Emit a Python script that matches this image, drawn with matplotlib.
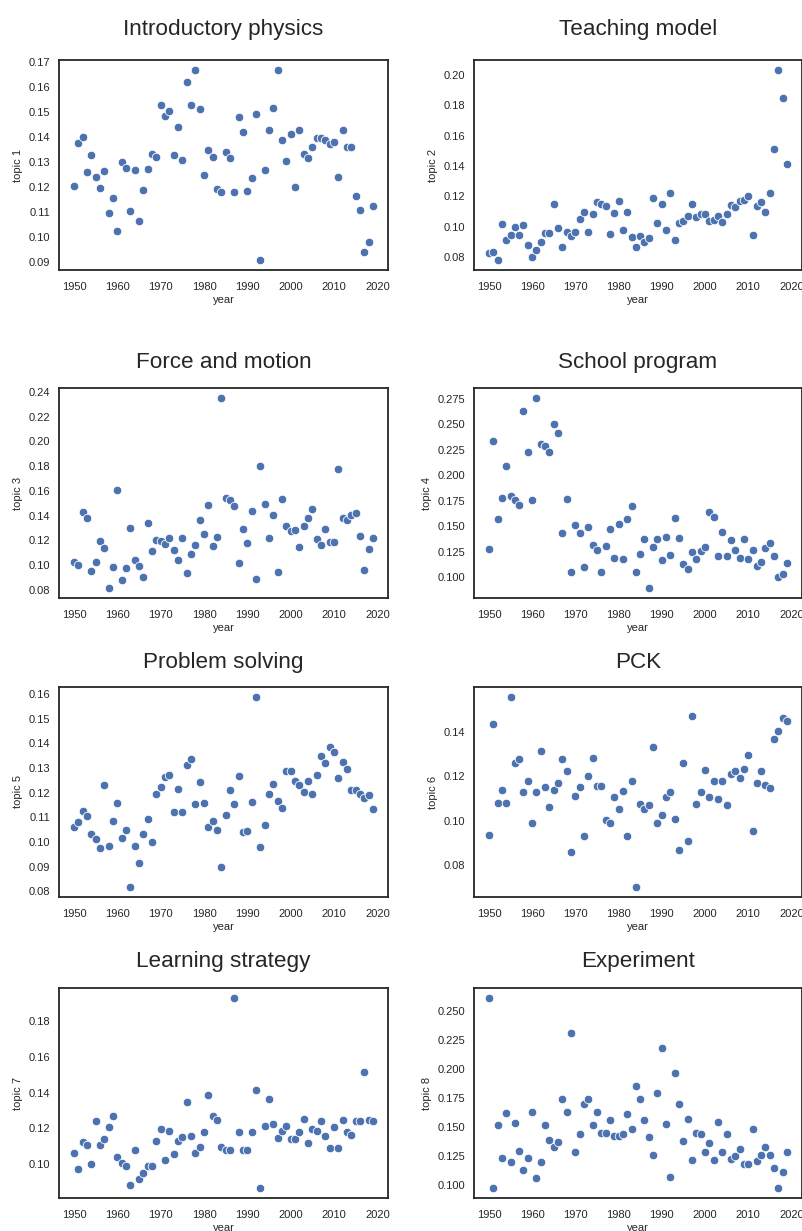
import matplotlib
matplotlib.use("Agg")
import matplotlib.pyplot as plt
import numpy as np

plt.rcParams['font.family'] = ['Liberation Sans', 'Arial', 'DejaVu Sans']

years = list(range(1950, 2020))

titles = ['Introductory physics', 'Teaching model', 'Force and motion', 'School program',
          'Problem solving', 'PCK', 'Learning strategy', 'Experiment']

topic1 = [0.1203, 0.1376, 0.1399, 0.1259, 0.1329, 0.1240, 0.1196, 0.1265, 0.1097, 0.1155,
          0.1025, 0.1299, 0.1276, 0.1103, 0.1267, 0.1063, 0.1187, 0.1271, 0.1332, 0.1319,
          0.1528, 0.1481, 0.1501, 0.1327, 0.1439, 0.1307, 0.1620, 0.1525, 0.1667, 0.1512,
          0.1249, 0.1347, 0.1319, 0.1193, 0.1180, 0.1340, 0.1315, 0.1180, 0.1479, 0.1419,
          0.1184, 0.1236, 0.1491, 0.0907, 0.1267, 0.1429, 0.1516, 0.1668, 0.1387, 0.1304,
          0.1413, 0.1200, 0.1429, 0.1333, 0.1315, 0.1360, 0.1396, 0.1396, 0.1389, 0.1373,
          0.1381, 0.1239, 0.1429, 0.1361, 0.1361, 0.1163, 0.1108, 0.0940, 0.0980, 0.1124]

topic2 = [0.0829, 0.0835, 0.0778, 0.1020, 0.0915, 0.0946, 0.0996, 0.0946, 0.1011, 0.0877,
          0.0800, 0.0849, 0.0901, 0.0959, 0.0961, 0.1152, 0.0992, 0.0868, 0.0963, 0.0941,
          0.0963, 0.1049, 0.1100, 0.0963, 0.1082, 0.1161, 0.1150, 0.1139, 0.0952, 0.1091,
          0.1168, 0.0978, 0.1100, 0.0934, 0.0864, 0.0941, 0.0901, 0.0923, 0.1192, 0.1025,
          0.1152, 0.0978, 0.1223, 0.0910, 0.1025, 0.1036, 0.1069, 0.1152, 0.1062, 0.1082,
          0.1084, 0.1038, 0.1042, 0.1071, 0.1029, 0.1084, 0.1146, 0.1130, 0.1168, 0.1179,
          0.1203, 0.0946, 0.1139, 0.1161, 0.1095, 0.1225, 0.1511, 0.2037, 0.1848, 0.1412]

topic3 = [0.1026, 0.1002, 0.1427, 0.1384, 0.0951, 0.1026, 0.1196, 0.1134, 0.0811, 0.0986,
          0.1610, 0.0878, 0.0975, 0.1298, 0.1037, 0.0991, 0.0900, 0.1338, 0.1112, 0.1204,
          0.1198, 0.1171, 0.1222, 0.1120, 0.1045, 0.1222, 0.0932, 0.1093, 0.1163, 0.1368,
          0.1252, 0.1489, 0.1153, 0.1230, 0.2354, 0.1545, 0.1524, 0.1475, 0.1018, 0.1290,
          0.1182, 0.1438, 0.0889, 0.1801, 0.1494, 0.1220, 0.1405, 0.0943, 0.1535, 0.1317,
          0.1279, 0.1284, 0.1147, 0.1317, 0.1384, 0.1454, 0.1214, 0.1163, 0.1290, 0.1188,
          0.1188, 0.1779, 0.1381, 0.1365, 0.1405, 0.1424, 0.1233, 0.0962, 0.1128, 0.1222]

topic4 = [0.1278, 0.2335, 0.1568, 0.1773, 0.2087, 0.1796, 0.1757, 0.1707, 0.2624, 0.2229,
          0.1757, 0.2760, 0.2305, 0.2289, 0.2229, 0.2497, 0.2417, 0.1433, 0.1767, 0.1053,
          0.1509, 0.1433, 0.1099, 0.1489, 0.1311, 0.1261, 0.1046, 0.1304, 0.1469, 0.1185,
          0.1522, 0.1172, 0.1565, 0.1697, 0.1053, 0.1225, 0.1370, 0.0888, 0.1291, 0.1374,
          0.1169, 0.1390, 0.1218, 0.1575, 0.1383, 0.1129, 0.1079, 0.1248, 0.1175, 0.1255,
          0.1294, 0.1634, 0.1585, 0.1205, 0.1446, 0.1205, 0.1360, 0.1261, 0.1188, 0.1374,
          0.1179, 0.1261, 0.1109, 0.1152, 0.1288, 0.1337, 0.1205, 0.1000, 0.1033, 0.1139]

topic5 = [0.1059, 0.1082, 0.1127, 0.1107, 0.1034, 0.1014, 0.0976, 0.1231, 0.0985, 0.1084,
          0.1157, 0.1016, 0.1050, 0.0816, 0.0985, 0.0915, 0.1034, 0.1095, 0.0999, 0.1196,
          0.1222, 0.1262, 0.1273, 0.1120, 0.1214, 0.1120, 0.1311, 0.1336, 0.1154, 0.1243,
          0.1159, 0.1062, 0.1084, 0.1050, 0.0900, 0.1111, 0.1211, 0.1155, 0.1269, 0.1039,
          0.1046, 0.1161, 0.1589, 0.0978, 0.1070, 0.1196, 0.1236, 0.1168, 0.1138, 0.1286,
          0.1286, 0.1247, 0.1230, 0.1203, 0.1246, 0.1193, 0.1273, 0.1349, 0.1319, 0.1384,
          0.1366, 0.1261, 0.1324, 0.1297, 0.1211, 0.1211, 0.1195, 0.1178, 0.1191, 0.1135]

topic6 = [0.0938, 0.1436, 0.1078, 0.1139, 0.1078, 0.1559, 0.1260, 0.1280, 0.1131, 0.1178,
          0.0991, 0.1131, 0.1313, 0.1152, 0.1064, 0.1137, 0.1172, 0.1277, 0.1223, 0.0859,
          0.1112, 0.1151, 0.0932, 0.1200, 0.1283, 0.1157, 0.1157, 0.1003, 0.0991, 0.1105,
          0.1055, 0.1133, 0.0932, 0.1180, 0.0700, 0.1075, 0.1053, 0.1073, 0.1330, 0.0991,
          0.1024, 0.1108, 0.1128, 0.1010, 0.0868, 0.1258, 0.0907, 0.1470, 0.1075, 0.1128,
          0.1230, 0.1108, 0.1178, 0.1100, 0.1178, 0.1072, 0.1212, 0.1222, 0.1192, 0.1235,
          0.1297, 0.0955, 0.1172, 0.1223, 0.1161, 0.1147, 0.1367, 0.1403, 0.1464, 0.1448]

topic7 = [0.1062, 0.0972, 0.1125, 0.1107, 0.1002, 0.1241, 0.1110, 0.1142, 0.1206, 0.1267,
          0.1041, 0.1006, 0.0991, 0.0886, 0.1082, 0.0918, 0.0948, 0.0991, 0.0991, 0.1127,
          0.1196, 0.1026, 0.1185, 0.1056, 0.1127, 0.1151, 0.1346, 0.1155, 0.1062, 0.1095,
          0.1181, 0.1389, 0.1267, 0.1249, 0.1097, 0.1079, 0.1079, 0.1933, 0.1181, 0.1077,
          0.1077, 0.1181, 0.1413, 0.0864, 0.1211, 0.1366, 0.1224, 0.1144, 0.1187, 0.1213,
          0.1140, 0.1140, 0.1181, 0.1252, 0.1121, 0.1196, 0.1187, 0.1241, 0.1157, 0.1088,
          0.1209, 0.1090, 0.1249, 0.1181, 0.1164, 0.1243, 0.1243, 0.1514, 0.1249, 0.1239]

topic8 = [0.2615, 0.0980, 0.1516, 0.1232, 0.1620, 0.1198, 0.1536, 0.1298, 0.1129, 0.1238,
          0.1628, 0.1060, 0.1204, 0.1516, 0.1387, 0.1330, 0.1370, 0.1740, 0.1634, 0.2311,
          0.1290, 0.1439, 0.1697, 0.1740, 0.1516, 0.1634, 0.1448, 0.1453, 0.1559, 0.1425,
          0.1425, 0.1445, 0.1610, 0.1488, 0.1855, 0.1743, 0.1559, 0.1416, 0.1264, 0.1795,
          0.2185, 0.1525, 0.1069, 0.1969, 0.1697, 0.1382, 0.1571, 0.1215, 0.1450, 0.1439,
          0.1290, 0.1364, 0.1215, 0.1542, 0.1290, 0.1439, 0.1224, 0.1253, 0.1310, 0.1187,
          0.1187, 0.1488, 0.1207, 0.1264, 0.1333, 0.1258, 0.1146, 0.0974, 0.1118, 0.1287]

topics = [topic1, topic2, topic3, topic4, topic5, topic6, topic7, topic8]

# y tick labels as shown in each panel
yticks = [
    ['0.09', '0.10', '0.11', '0.12', '0.13', '0.14', '0.15', '0.16', '0.17'],
    ['0.08', '0.10', '0.12', '0.14', '0.16', '0.18', '0.20'],
    ['0.08', '0.10', '0.12', '0.14', '0.16', '0.18', '0.20', '0.22', '0.24'],
    ['0.100', '0.125', '0.150', '0.175', '0.200', '0.225', '0.250', '0.275'],
    ['0.08', '0.09', '0.10', '0.11', '0.12', '0.13', '0.14', '0.15', '0.16'],
    ['0.08', '0.10', '0.12', '0.14'],
    ['0.10', '0.12', '0.14', '0.16', '0.18'],
    ['0.100', '0.125', '0.150', '0.175', '0.200', '0.225', '0.250'],
]
xticks = [1950, 1960, 1970, 1980, 1990, 2000, 2010, 2020]

W, H = 803, 1231
fig = plt.figure(figsize=(W / 100, H / 100), dpi=100)

col_left = [59, 474]
col_width = [329, 328]
row_top = [60, 388, 687, 988]
ax_h = 210
title_pad = [18, 14.5, 14, 15]

txt = '#262626'
for k in range(8):
    r, c = k // 2, k % 2
    ax = fig.add_axes([col_left[c] / W, 1 - (row_top[r] + ax_h) / H, col_width[c] / W, ax_h / H])
    ax.scatter(years, topics[k], s=38, color='#4C72B0', edgecolor='white', linewidth=0.6, zorder=3)
    ax.set_xticks(xticks)
    ax.set_yticks([float(t) for t in yticks[k]])
    ax.set_yticklabels(yticks[k])
    ax.tick_params(length=0, labelsize=8, colors=txt)
    ax.tick_params(axis='x', pad=8.5)
    ax.tick_params(axis='y', pad=6.5)
    for sp in ax.spines.values():
        sp.set_color('#262626')
        sp.set_linewidth(1.3)
    ax.set_xlabel('year', fontsize=8, color=txt, labelpad=2)
    ax.set_ylabel('topic %d' % (k + 1), fontsize=8, color=txt, labelpad=4)
    ax.set_title(titles[k], fontsize=16.2, color=txt, pad=title_pad[r])

fig.savefig('out.png', dpi=100, facecolor='white')
